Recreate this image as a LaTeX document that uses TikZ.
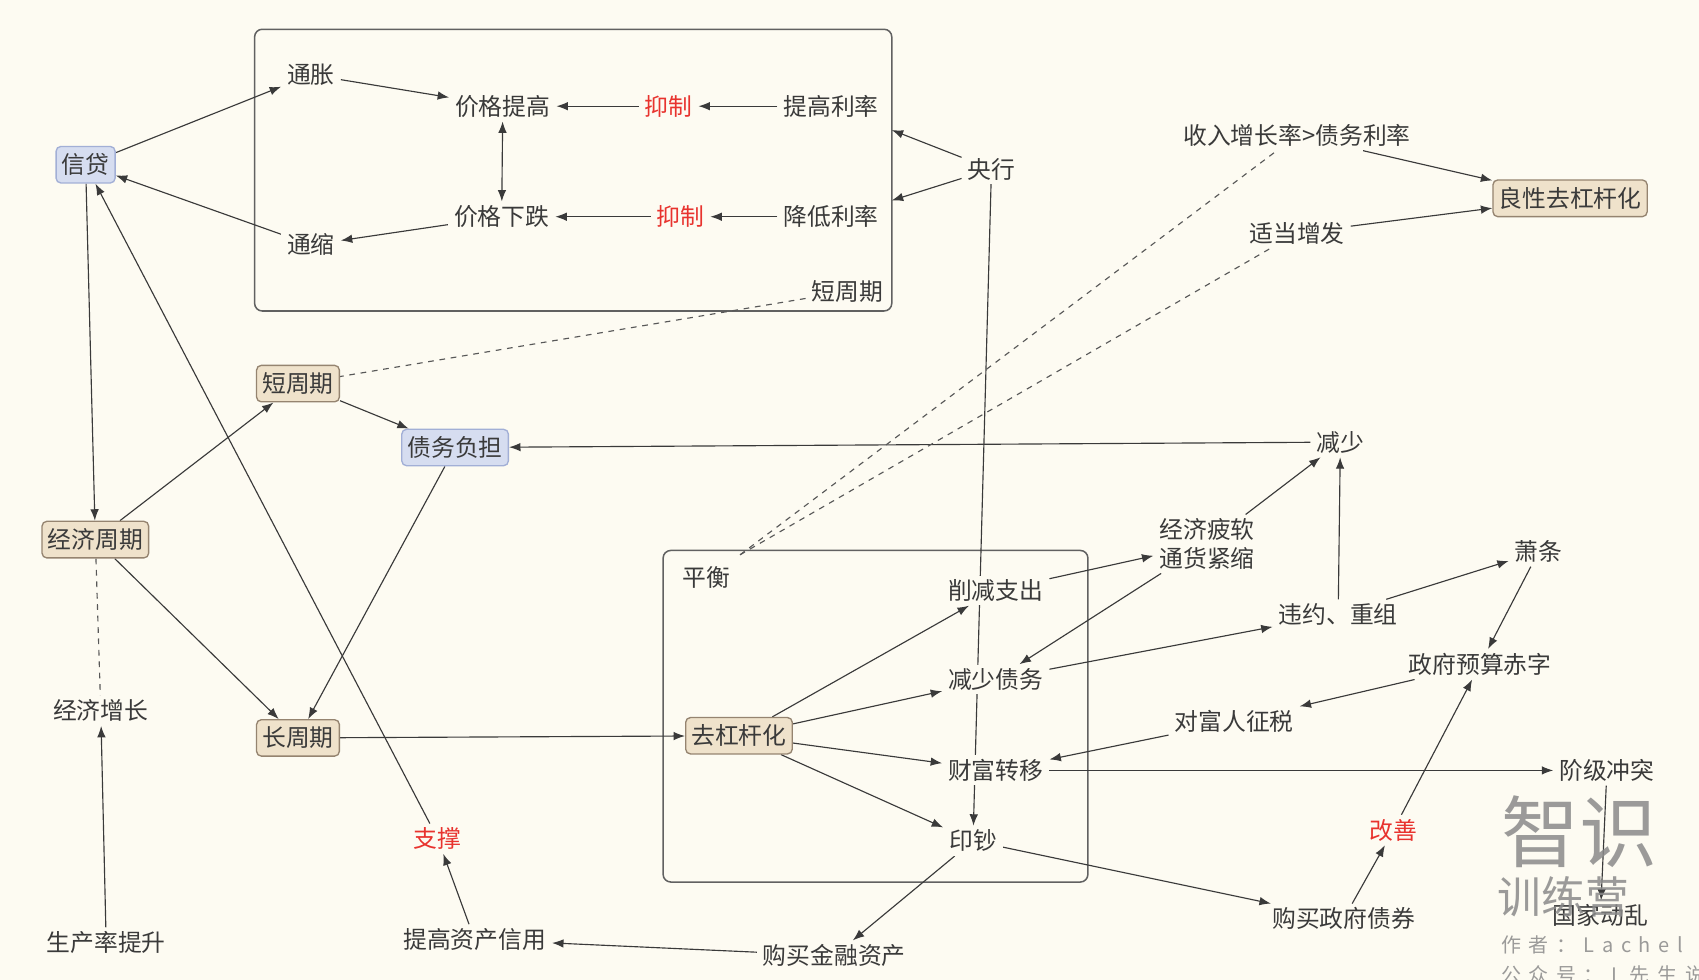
\documentclass[tikz,border=0pt]{standalone}
\usepackage{fontspec}
\setmainfont{Noto Sans CJK SC}
\usetikzlibrary{arrows.meta}
\definecolor{paper}{HTML}{FDFBF2}
\definecolor{ink}{HTML}{3A3A3A}
\definecolor{tanfill}{HTML}{EFE2CB}
\definecolor{tanline}{HTML}{958470}
\definecolor{bluefill}{HTML}{D6DDF0}
\definecolor{blueline}{HTML}{A2AFD6}
\definecolor{redtext}{HTML}{E8332E}
\definecolor{markgrey}{HTML}{8A8A8A}
\pgfdeclarelayer{paperlayer}
\pgfdeclarelayer{linklayer}
\pgfsetlayers{paperlayer,linklayer,main}

\begin{document}
\begin{tikzpicture}[x=0.02cm, y=-0.02cm, font=\fontsize{12.5}{15}\selectfont]
    \tikzstyle{word} = [fill=paper, text=ink, inner xsep=3pt, inner ysep=2pt]
    \tikzstyle{red word} = [word, text=redtext]
    \tikzstyle{tan box} = [word, fill=tanfill, draw=tanline, line width=0.7pt, rounded corners=2.5pt, inner ysep=3.8pt]
    \tikzstyle{blue box} = [word, fill=bluefill, draw=blueline, line width=0.7pt, rounded corners=2.5pt, inner ysep=3.8pt]
    \tikzstyle{link} = [draw=ink, line width=0.6pt, -{Latex[length=6pt,width=4.5pt]}]
    \tikzstyle{both link} = [draw=ink, line width=0.6pt, {Latex[length=6pt,width=4.5pt]}-{Latex[length=6pt,width=4.5pt]}]
    \tikzstyle{dash link} = [draw=ink!85, line width=0.6pt, dashed]
    \tikzstyle{frame} = [draw=ink!80, line width=0.8pt, rounded corners=4pt]
    \tikzstyle{mark text} = [text=markgrey, opacity=0.85, inner sep=0pt]

    \useasboundingbox (0,0) rectangle (1568,904);
    \clip (0,0) rectangle (1568,904);
    \begin{pgfonlayer}{paperlayer}
        \fill[paper] (0,0) rectangle (1568,904);
    \end{pgfonlayer}

    \node[word] (tongzhang) at (287,69) {通胀};
    \node[word] (jiagetigao) at (464,98) {价格提高};
    \node[red word] (yizhiA) at (617,98) {抑制};
    \node[word] (tigaolilv) at (767,98) {提高利率};
    \node[word] (jiagexiadie) at (463,200) {价格下跌};
    \node[red word] (yizhiB) at (628,200) {抑制};
    \node[word] (jiangdililv) at (767,200) {降低利率};
    \node[word] (tongsuo) at (287,226) {通缩};
    \node[word] (duanlabel) at (782,269) {短周期};
    \node[blue box] (xindai) at (79,152) {信贷};
    \node[word] (yanghang) at (915,156) {央行};
    \coordinate (frameA) at (823,120);
    \coordinate (frameB) at (823,185);

    \node[tan box] (duanzhouqi) at (275,354) {短周期};
    \node[blue box] (zhaiwu) at (420,413) {债务负担};
    \node[tan box] (jingjizhouqi) at (88,498) {经济周期};
    \node[tan box] (changzhouqi) at (275,681) {长周期};
    \node[word] (zengzhang) at (93,656) {经济增长};
    \node[word] (shengchanlv) at (98,870) {生产率提升};
    \node[red word] (zhicheng) at (404,774) {支撑};
    \node[word] (zichanxinyong) at (438,867) {提高资产信用};
    \node[word] (jinrongzichan) at (770,882) {购买金融资产};

    \node[word] (pingheng) at (652,533) {平衡};
    \coordinate (pinghengtip) at (683,512);
    \node[tan box] (qugang) at (682,679) {去杠杆化};
    \node[word] (xuejian) at (919,545) {削减支出};
    \node[word] (jianshaozhaiwu) at (919,627) {减少债务};
    \node[word] (caifu) at (919,711) {财富转移};
    \node[word] (yinchao) at (898,776) {印钞};

    \node[word] (shouru) at (1197,125) {收入增长率>债务利率};
    \node[tan box] (liangxing) at (1449,183) {良性去杠杆化};
    \node[word] (shidang) at (1197,215) {适当增发};
    \node[word] (jianshao) at (1237,408) {减少};
    \node[word, align=center] (piruan) at (1114,502) {经济疲软\\通货紧缩};
    \node[word] (weiyue) at (1235,567) {违约、重组};
    \node[word] (xiaotiao) at (1420,509) {萧条};
    \node[word] (chizi) at (1366,613) {政府预算赤字};
    \node[word] (zhengshui) at (1139,666) {对富人征税};
    \node[word] (jieji) at (1483,711) {阶级冲突};
    \node[red word] (gaishan) at (1286,766) {改善};
    \node[word] (zhaiquan) at (1240,848) {购买政府债券};
    \node[word] (dongluan) at (1477,845) {国家动乱};

    \begin{pgfonlayer}{linklayer}
        \draw[frame] (235,27) rectangle (823,287);
        \draw[frame] (612,508) rectangle (1004,814);

        \draw[link] (xindai) -- (tongzhang);
        \draw[link] (tongzhang) -- (jiagetigao);
        \draw[both link] (jiagetigao) -- (jiagexiadie);
        \draw[link] (yizhiA) -- (jiagetigao);
        \draw[link] (tigaolilv) -- (yizhiA);
        \draw[link] (yizhiB) -- (jiagexiadie);
        \draw[link] (jiangdililv) -- (yizhiB);
        \draw[link] (jiagexiadie) -- (tongsuo);
        \draw[link] (tongsuo) -- (xindai);
        \draw[link] (yanghang) -- (frameA);
        \draw[link] (yanghang) -- (frameB);
        \draw[link] (yanghang) -- (yinchao);
        \draw[dash link] (duanlabel) -- (duanzhouqi);

        \draw[link] (xindai) -- (jingjizhouqi);
        \draw[link] (zhicheng) -- (xindai);
        \draw[link] (jingjizhouqi) -- (duanzhouqi);
        \draw[link] (duanzhouqi) -- (zhaiwu);
        \draw[link] (jianshao) -- (zhaiwu);
        \draw[link] (zhaiwu) -- (changzhouqi);
        \draw[link] (jingjizhouqi) -- (changzhouqi);
        \draw[dash link] (jingjizhouqi) -- (zengzhang);
        \draw[link] (shengchanlv) -- (zengzhang);
        \draw[link] (changzhouqi) -- (qugang);
        \draw[link] (zichanxinyong) -- (zhicheng);
        \draw[link] (jinrongzichan) -- (zichanxinyong);
        \draw[link] (yinchao) -- (jinrongzichan);

        \draw[link] (qugang) -- (xuejian);
        \draw[link] (qugang) -- (jianshaozhaiwu);
        \draw[link] (qugang) -- (caifu);
        \draw[link] (qugang) -- (yinchao);

        \draw[link] (shouru) -- (liangxing);
        \draw[link] (shidang) -- (liangxing);
        \draw[dash link] (pinghengtip) -- (shouru);
        \draw[dash link] (pinghengtip) -- (shidang);

        \draw[link] (xuejian) -- (piruan);
        \draw[link] (piruan) -- (jianshaozhaiwu);
        \draw[link] (piruan) -- (jianshao);
        \draw[link] (weiyue) -- (jianshao);
        \draw[link] (jianshaozhaiwu) -- (weiyue);
        \draw[link] (weiyue) -- (xiaotiao);
        \draw[link] (xiaotiao) -- (chizi);
        \draw[link] (chizi) -- (zhengshui);
        \draw[link] (zhengshui) -- (caifu);
        \draw[link] (caifu) -- (jieji);
        \draw[link] (jieji) -- (dongluan);
        \draw[link] (yinchao) -- (zhaiquan);
        \draw[link] (zhaiquan) -- (gaishan);
        \draw[link] (gaishan) -- (chizi);
    \end{pgfonlayer}

    \node[mark text] (wmA) at (1458,768) {\fontsize{41}{41}\selectfont 智识};
    \node[mark text] (wmB) at (1443,828) {\fontsize{23}{23}\selectfont 训练营};
    \node[mark text, anchor=west] (wmC) at (1385,872) {\fontsize{10.5}{12}\selectfont\addfontfeature{LetterSpace=38}作者：Lachel};
    \node[mark text, anchor=west] (wmD) at (1385,900) {\fontsize{10.5}{12}\selectfont\addfontfeature{LetterSpace=38}公众号：L先生说};
\end{tikzpicture}
\end{document}
